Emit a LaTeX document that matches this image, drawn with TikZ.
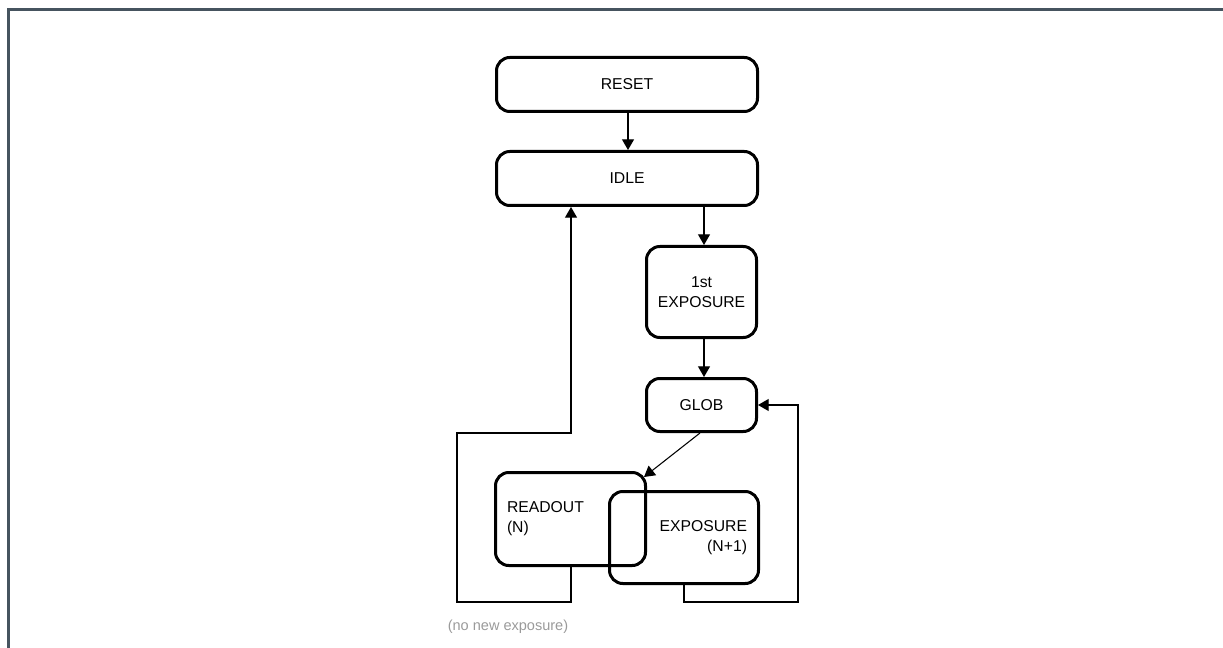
\documentclass[tikz,border=0pt]{standalone}
\usepackage{fontspec}
\setmainfont{Liberation Sans}
\usetikzlibrary{arrows.meta,calc}
\definecolor{framegray}{HTML}{46545F}
\definecolor{notegray}{HTML}{9A9A9A}
\tikzset{
  state/.style={draw=black, line width=2.25pt, rounded corners=10pt, inner sep=0pt,
    font=\fontsize{11.8pt}{15pt}\selectfont, align=center},
  conn/.style={draw=black, line width=0.8pt},
  arr/.style={conn, -{Triangle[length=8pt,width=9pt]}},
  note/.style={text=notegray, font=\fontsize{10.9pt}{13pt}\selectfont, inner sep=0pt}
}
\begin{document}
\begin{tikzpicture}[x=0.75pt,y=-0.75pt]
\useasboundingbox (0,0) rectangle (1223,648);
% frame
\draw[framegray, line width=2.25pt] (8.5,648) -- (8.5,9.5) -- (1223,9.5);
% states
\node[state, minimum width=261*0.75pt, minimum height=54*0.75pt] (reset) at (627,84.5) {RESET};
\node[state, minimum width=261*0.75pt, minimum height=54*0.75pt] (idle) at (627,178.5) {IDLE};
\node[state, minimum width=110*0.75pt, minimum height=91*0.75pt] (exp1) at (701.5,292) {1st\\EXPOSURE};
\node[state, minimum width=110*0.75pt, minimum height=53*0.75pt] (glob) at (701.5,405) {GLOB};
\node[state, minimum height=93*0.75pt, inner xsep=11.5*0.75pt, text width=127*0.75pt, align=left] (readout) at (570.5,519) {READOUT\\(N)};
\node[state, minimum height=92*0.75pt, inner xsep=11.5*0.75pt, text width=126*0.75pt, align=right] (expn) at (684,537.5) {EXPOSURE\\(N+1)};
% helper coordinates
\coordinate (c628) at (628,0);
\coordinate (c704) at (704,0);
\coordinate (c684) at (684,0);
\coordinate (c571) at (571,0);
\coordinate (rb) at (798,602);
\coordinate (lb) at (457,602);
\coordinate (lt) at (571,433);
% connectors
\draw[arr] (reset.south -| c628) -- (idle.north -| c628);
\draw[arr] (idle.south -| c704) -- (exp1.north -| c704);
\draw[arr] (exp1.south -| c704) -- (glob.north -| c704);
\draw[arr] ($(glob.south)+(-1.5,0)$) -- ($(readout.north east)+(-3,6)$);
\draw[arr] (expn.south -| c684) |- (rb) |- (glob.east);
\draw[arr] (readout.south -| c571) |- (lb) |- (lt) -- (idle.south -| c571);
% note
\node[note] (nonew) at (508,627) {(no new exposure)};
\end{tikzpicture}
\end{document}
